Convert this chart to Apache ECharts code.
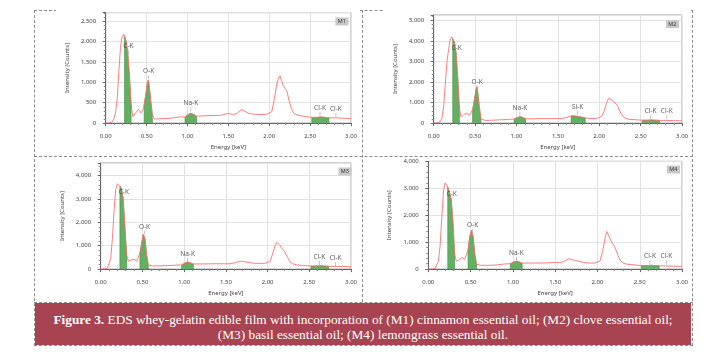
<!doctype html>
<html>
<head>
<meta charset="utf-8">
<title>EDS whey-gelatin edible film</title>
<script src="https://cdn.jsdelivr.net/npm/echarts@6/dist/echarts.min.js"></script>
<style>
    body{margin:0;background:#fff;}
    #page{position:relative;width:713px;height:354px;overflow:hidden;background:#fff;}
    .dash{position:absolute;border:0 dashed #8c8c8c;box-sizing:border-box;}
    .chart{position:absolute;background:#fff;}
    #caption{position:absolute;left:35px;top:303px;width:656px;height:42px;background:#a84451;color:#fff;
        font-family:'Liberation Serif','Times New Roman',serif;font-size:13.3px;line-height:15px;
        text-align:center;padding-top:9px;box-sizing:border-box;white-space:nowrap;}
</style>
</head>
<body>
<div id="page">
    <div class="dash" style="left:34px;top:10px;width:659px;height:336px;border-width:1px;"></div>
    <div class="dash" style="left:362px;top:10px;width:1px;height:292px;border-left-width:1px;"></div>
    <div class="dash" style="left:34px;top:156px;width:659px;height:1px;border-top-width:1px;"></div>
    <div class="dash" style="left:34px;top:302px;width:659px;height:1px;border-top-width:1px;"></div>

    <div id="c1" class="chart" style="left:56px;top:9px;width:304px;height:146px;"></div>
    <div id="c2" class="chart" style="left:384px;top:9px;width:307px;height:146px;"></div>
    <div id="c3" class="chart" style="left:35px;top:158px;width:325px;height:143px;"></div>
    <div id="c4" class="chart" style="left:363px;top:158px;width:328px;height:143px;"></div>

    <div id="caption"><b>Figure 3.</b> EDS whey-gelatin edible film with incorporation of (M1) cinnamon essential oil; (M2) clove essential oil;<br>(M3) basil essential oil; (M4) lemongrass essential oil.</div>
</div>

<script type="text/javascript">
    // energy axis (keV), shared by the four spectra
    var energy = [0.00, 0.05, 0.08, 0.10, 0.12, 0.14, 0.16, 0.18, 0.20, 0.22,
        0.23, 0.25, 0.27, 0.29, 0.31, 0.33, 0.35, 0.37, 0.40, 0.43,
        0.45, 0.47, 0.49, 0.51, 0.52, 0.53, 0.55, 0.57, 0.59, 0.62,
        0.70, 0.80, 0.90, 0.97, 1.01, 1.04, 1.07, 1.11, 1.20, 1.30,
        1.40, 1.50, 1.55, 1.60, 1.66, 1.70, 1.75, 1.83, 1.90, 1.97,
        2.03, 2.06, 2.09, 2.11, 2.13, 2.15, 2.17, 2.20, 2.22, 2.24,
        2.27, 2.30, 2.35, 2.42, 2.52, 2.58, 2.64, 2.68, 2.73, 2.80,
        2.90, 3.00];

    // counts
    var countsM1 = [0, 5, 30, 105, 250, 600, 1250, 1850, 2120, 2180,
        2150, 2000, 1700, 1150, 450, 160, 200, 260, 340, 250,
        300, 450, 700, 1000, 1050, 950, 550, 200, 110, 100,
        110, 120, 150, 150, 210, 240, 215, 170, 180, 185,
        190, 240, 210, 230, 330, 290, 240, 210, 210, 215,
        280, 560, 950, 1080, 1160, 1050, 920, 830, 760, 560,
        360, 240, 190, 170, 140, 140, 150, 140, 130, 130,
        120, 110];
    var countsM2 = [0, 20, 80, 250, 800, 1900, 3000, 3600, 4100, 4200,
        4100, 3950, 3400, 2200, 700, 290, 330, 430, 480, 380,
        460, 650, 1100, 1600, 1770, 1550, 800, 200, 130, 130,
        140, 160, 180, 200, 270, 310, 280, 210, 210, 220,
        220, 220, 230, 270, 350, 350, 320, 250, 220, 230,
        330, 600, 1000, 1200, 1280, 1150, 1050, 950, 850, 650,
        420, 270, 190, 170, 140, 140, 150, 140, 130, 130,
        120, 110];
    var countsM3 = [0, 10, 30, 100, 450, 1300, 2500, 3400, 3650, 3600,
        3550, 3450, 2950, 1800, 650, 330, 300, 400, 420, 340,
        420, 680, 1100, 1480, 1550, 1300, 600, 180, 140, 135,
        140, 150, 170, 180, 260, 300, 270, 220, 220, 225,
        230, 225, 230, 260, 330, 330, 300, 250, 245, 250,
        330, 650, 1000, 1150, 1200, 1000, 880, 780, 640, 500,
        300, 230, 180, 160, 130, 130, 140, 130, 120, 115,
        110, 100];
    var countsM4 = [0, 10, 30, 100, 290, 880, 1960, 2900, 3200, 3150,
        3050, 2850, 2600, 1800, 600, 300, 310, 360, 430, 360,
        430, 700, 1200, 1430, 1460, 1200, 550, 180, 140, 140,
        140, 150, 190, 200, 260, 290, 270, 220, 225, 225,
        230, 250, 240, 280, 380, 350, 310, 250, 225, 225,
        300, 650, 1150, 1400, 1350, 1120, 980, 850, 700, 520,
        330, 225, 180, 160, 130, 130, 140, 130, 120, 120,
        110, 100];

    // peak labels
    var peakNames = ['C-K', 'O-K', 'Na-K', 'Cl-K', 'Cl-K'];
    var peakEnergy = [0.277, 0.525, 1.041, 2.621, 2.815];
    var peakNamesM2 = ['C-K', 'O-K', 'Na-K', 'Si-K', 'Cl-K', 'Cl-K'];
    var peakEnergyM2 = [0.277, 0.525, 1.041, 1.739, 2.621, 2.815];
    var labelCountsM1 = [1890, 1275, 480, 370, 345];
    var labelCountsM2 = [3645, 2010, 750, 795, 575, 575];
    var labelCountsM3 = [3280, 1810, 650, 515, 480];
    var labelCountsM4 = [2770, 1640, 610, 465, 465];

    // integrated (green) windows, keV
    var windows = [[0.23, 0.31], [0.47, 0.57], [0.97, 1.11], [2.52, 2.73]];
    var windowsM2 = [[0.23, 0.31], [0.47, 0.57], [0.97, 1.11], [1.66, 1.83], [2.52, 2.73]];

    // y axis extents
    var yMax = [2710, 5270, 4540, 4000];
    var yStep = [500, 1000, 1000, 1000];
    var tags = ['M1', 'M2', 'M3', 'M4'];

    var FONT = "'Noto Sans', 'Open Sans', sans-serif";

    function fmtThousands(v) {
        return String(v).replace(/\B(?=(\d{3})+(?!\d))/g, ',');
    }

    function makeChart(el, counts, names, peaks, labelY, wins, ymax, ystep, tag, lay) {
        var line = energy.map(function (e, i) { return [e, counts[i]]; });
        var series = [];

        wins.forEach(function (w) {
            var pts = [[w[0], 0]];
            energy.forEach(function (e, i) {
                if (e >= w[0] - 1e-9 && e <= w[1] + 1e-9) pts.push([e, counts[i]]);
            });
            pts.push([w[1], 0]);
            series.push({
                type: 'line', data: pts, symbol: 'none', silent: true, z: 2,
                lineStyle: {color: '#3f8c3f', width: 0.6},
                areaStyle: {color: '#62b062', opacity: 1}
            });
        });

        series.push({
            type: 'line', data: line, symbol: 'none', silent: true, z: 3,
            lineStyle: {color: '#ff7070', width: 0.9}
        });

        var lbl = peaks.map(function (e, i) { return [e, labelY[i]]; });
        series.push({
            type: 'scatter', data: lbl, symbol: 'rect', symbolSize: [0.8, 4], symbolOffset: [0, 6],
            itemStyle: {color: '#a5a5a5'}, silent: true, z: 4
        });
        series.push({
            type: 'scatter', data: lbl, symbolSize: 1, itemStyle: {color: 'rgba(0,0,0,0)'}, silent: true, z: 5,
            label: {
                show: true, position: 'inside', fontSize: 6.5, color: '#333', fontFamily: FONT,
                formatter: function (p) { return names[p.dataIndex]; }
            }
        });

        var chart = echarts.init(document.getElementById(el));
        chart.setOption({
            animation: false,
            title: {
                text: tag, right: lay.tagRight, top: lay.tagTop,
                backgroundColor: '#c9c9c9', padding: [1, 2.5],
                textStyle: {fontSize: 5.5, lineHeight: 6, fontWeight: 'normal', color: '#333', fontFamily: FONT}
            },
            grid: {
                left: lay.left, top: lay.top, width: lay.width, height: lay.height,
                show: true, borderColor: '#a3a3a3', borderWidth: 1
            },
            xAxis: {
                type: 'value', min: 0, max: 3, interval: 0.5,
                name: 'Energy [keV]', nameLocation: 'middle', nameGap: 18.5,
                nameTextStyle: {fontSize: 6, color: '#444', fontFamily: FONT},
                axisLine: {show: true, onZero: false, lineStyle: {color: '#666', width: 1}},
                axisTick: {show: true, length: 3, lineStyle: {color: '#666'}},
                minorTick: {show: true, splitNumber: 5, length: 2, lineStyle: {color: '#888'}},
                axisLabel: {fontSize: 6, color: '#444', margin: 10, fontFamily: FONT,
                    formatter: function (v) { return v.toFixed(2); }},
                splitLine: {show: true, lineStyle: {color: '#e2e2e2', width: 1}}
            },
            yAxis: {
                type: 'value', min: 0, max: ymax, interval: ystep,
                name: 'Intensity [Counts]', nameLocation: 'middle', nameGap: lay.nameGap,
                nameTextStyle: {fontSize: 6, color: '#444', fontFamily: FONT},
                axisLine: {show: true, lineStyle: {color: '#666', width: 1}},
                axisTick: {show: true, length: 3, lineStyle: {color: '#666'}},
                minorTick: {show: true, splitNumber: 5, length: 2, lineStyle: {color: '#888'}},
                axisLabel: {fontSize: 6, color: '#444', margin: 9.5, fontFamily: FONT,
                    formatter: function (v) { return v % ystep === 0 ? fmtThousands(v) : ''; }},
                splitLine: {show: true, lineStyle: {color: '#e2e2e2', width: 1}}
            },
            series: series
        });
    }

    makeChart('c1', countsM1, peakNames, peakEnergy, labelCountsM1, windows, yMax[0], yStep[0], tags[0],
        {left: 45.7, top: 3.7, width: 262.8, height: 111.3, nameGap: 31, tagRight: 11.5, tagTop: 8.5});
    makeChart('c2', countsM2, peakNamesM2, peakEnergyM2, labelCountsM2, windowsM2, yMax[1], yStep[1], tags[1],
        {left: 41.7, top: 6, width: 265.3, height: 113, nameGap: 33, tagRight: 12, tagTop: 11});
    makeChart('c3', countsM3, peakNames, peakEnergy, labelCountsM3, windows, yMax[2], yStep[2], tags[2],
        {left: 65.7, top: 5, width: 265.2, height: 111.3, nameGap: 31, tagRight: 8.5, tagTop: 9.5});
    makeChart('c4', countsM4, peakNames, peakEnergy, labelCountsM4, windows, yMax[3], yStep[3], tags[3],
        {left: 65.3, top: 3.3, width: 265.2, height: 111.7, nameGap: 31, tagRight: 11, tagTop: 7.5});
</script>
</body>
</html>
